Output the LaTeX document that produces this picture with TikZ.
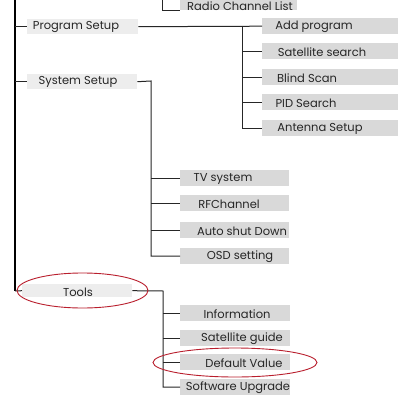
\documentclass[tikz,border=0pt]{standalone}
\usepackage{fontspec}
\setmainfont{Poppins}
\usetikzlibrary{shapes.geometric}
\begin{document}
\begin{tikzpicture}[x=1pt,y=-1pt,
  topbox/.style={draw=none,fill=gray!14,inner sep=0pt,anchor=north west},
  subbox/.style={draw=none,fill=gray!30,inner sep=0pt,anchor=north west},
  lbl/.style={inner sep=0pt,yshift=-1pt,font=\fontsize{11.5}{13}\selectfont,text=black!85},
  ln/.style={draw=black!85,line width=1pt},
  mainln/.style={draw=black,line width=1.8pt},
  redmark/.style={draw={rgb,255:red,185;green,30;blue,45},line width=0.9pt}
]
\useasboundingbox[fill=white] (0,0) rectangle (412,404);
% top-level boxes
\node[topbox,minimum width=111,minimum height=15] (bprog) at (27,19) {};
\node[topbox,minimum width=110,minimum height=15] (bsys) at (27,74) {};
\node[topbox,minimum width=110,minimum height=13] (btools) at (22,284) {};
\node[subbox,minimum width=117,minimum height=16] (bradio) at (180,-6) {};
% program children
\node[subbox,minimum width=136,minimum height=16] (badd) at (262,18) {};
\node[subbox,minimum width=136,minimum height=16] (bsat) at (262,43) {};
\node[subbox,minimum width=136,minimum height=16] (bblind) at (262,69) {};
\node[subbox,minimum width=136,minimum height=16] (bpid) at (262,94) {};
\node[subbox,minimum width=136,minimum height=16] (bant) at (262,120) {};
% system children
\node[subbox,minimum width=109,minimum height=16] (btv) at (180,170) {};
\node[subbox,minimum width=109,minimum height=16] (brf) at (180,195) {};
\node[subbox,minimum width=109,minimum height=16] (bauto) at (180,222) {};
\node[subbox,minimum width=109,minimum height=16] (bosd) at (180,248) {};
% tools children
\node[subbox,minimum width=110,minimum height=16] (binfo) at (180,305) {};
\node[subbox,minimum width=110,minimum height=16] (bguide) at (180,330) {};
\node[subbox,minimum width=110,minimum height=16] (bdef) at (180,354) {};
\node[subbox,minimum width=110,minimum height=16] (bsoft) at (180,379) {};
% labels
\node[lbl] (tradio) at (240,5) {Radio Channel List};
\node[lbl] (tprog) at (76,26) {Program Setup};
\node[lbl] (tsys) at (78,81) {System Setup};
\node[lbl] (ttools) at (78,291) {Tools};
\node[lbl] (tadd) at (314,26) {Add program};
\node[lbl] (tsat) at (322,51) {Satellite search};
\node[lbl] (tblind) at (307,77) {Blind Scan};
\node[lbl] (tpid) at (306,102) {PID Search};
\node[lbl] (tant) at (320,128) {Antenna Setup};
\node[lbl] (ttv) at (223,178) {TV system};
\node[lbl] (trf) at (229,203) {RFChannel};
\node[lbl] (tauto) at (242,230) {Auto shut Down};
\node[lbl] (tosd) at (240,256) {OSD setting};
\node[lbl] (tinfo) at (237,313) {Information};
\node[lbl] (tguide) at (242,338) {Satellite guide};
\node[lbl] (tdef) at (244,362) {Default Value};
\node[lbl] (tsoft) at (238,387) {Software Upgrade};
% branch coordinates
\coordinate (mtop) at (15,-4);
\coordinate (mbot) at (15,291);
\coordinate (rtop) at (162,-4);
\coordinate (pj) at (242,26);
\coordinate (sj) at (151,81);
\coordinate (tj) at (163,291);
% main trunk
\draw[mainln] (mtop) -- (mbot);
\draw[ln] (mbot) -- (btools.west);
\draw[ln] (mtop |- bprog.west) -- (bprog.west);
\draw[ln] (mtop |- bsys.west) -- (bsys.west);
% radio bracket
\draw[ln] (rtop) |- (bradio.west |- 0,11);
% program setup
\draw[ln] (bprog.east) -- (badd.west);
\draw[ln] (pj) |- (bant.west);
\foreach \b in {bsat,bblind,bpid} \draw[ln] (pj |- \b.west) -- (\b.west);
% system setup
\draw[ln] (bsys.east) -- (sj) |- (bosd.west);
\foreach \b in {btv,brf,bauto} \draw[ln] (sj |- \b.west) -- (\b.west);
% tools
\draw[ln] (btools.east) -- (tj) |- (bsoft.west);
\foreach \b in {binfo,bguide,bdef} \draw[ln] (tj |- \b.west) -- (\b.west);
% red marks
\node[redmark,ellipse,minimum width=131,minimum height=35,inner sep=0pt] (etools) at (82.5,290.5) {};
\node[redmark,ellipse,minimum width=164,minimum height=29,inner sep=0pt] (edef) at (235,362.5) {};
\end{tikzpicture}
\end{document}
